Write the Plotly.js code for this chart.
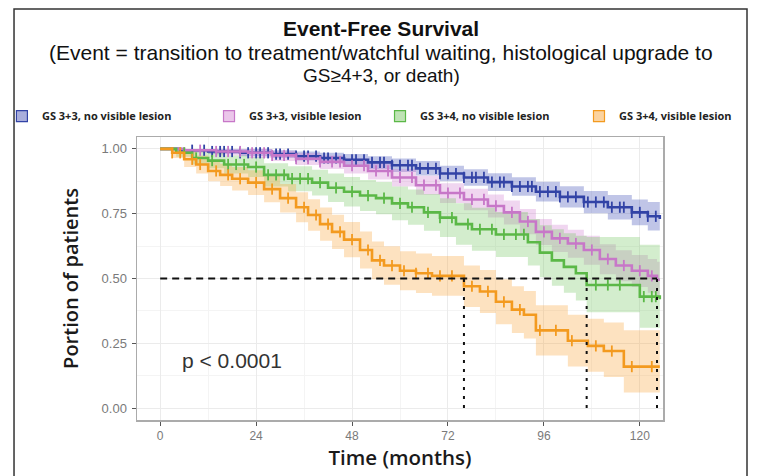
<!DOCTYPE html>
<html>
<head>
<meta charset="utf-8">
<script src="https://cdn.plot.ly/plotly-3.0.1.min.js"></script>
<style>
html,body{margin:0;padding:0;background:#fff;}
#chart{width:763px;height:476px;}
</style>
</head>
<body>
<div id="chart"></div>
<script>
// ---------------- data ----------------
const groupNames = ["GS 3+3, no visible lesion", "GS 3+3, visible lesion", "GS 3+4, no visible lesion", "GS 3+4, visible lesion"];

// GS 3+3, no visible lesion
const blueT = [0, 5, 12, 20, 28, 34, 40, 46, 52, 58, 64, 70, 76, 82, 88, 94, 100, 106, 112, 118, 122, 125];
const blueS = [1.0, 0.995, 0.99, 0.985, 0.98, 0.972, 0.965, 0.958, 0.948, 0.937, 0.925, 0.905, 0.89, 0.872, 0.855, 0.835, 0.815, 0.795, 0.775, 0.755, 0.74, 0.73];
const blueUp = [1, 1, 1, 1, 0.995, 0.99, 0.985, 0.98, 0.972, 0.963, 0.953, 0.935, 0.922, 0.906, 0.891, 0.873, 0.856, 0.838, 0.822, 0.805, 0.795, 0.79];
const blueLo = [1, 0.99, 0.98, 0.972, 0.965, 0.955, 0.945, 0.935, 0.923, 0.911, 0.897, 0.875, 0.858, 0.838, 0.819, 0.797, 0.774, 0.752, 0.728, 0.705, 0.685, 0.67];
const blueCens = [8, 11, 13, 15, 16, 18, 20, 22, 24, 25, 27, 29, 30, 32, 34, 36, 37, 39, 41, 42, 44, 46, 48, 49, 51, 53, 55, 56, 58, 60, 62, 63, 65, 67, 69, 70, 72, 74, 76, 78, 79, 81, 83, 85, 86, 88, 90, 92, 93, 95, 97, 99, 100, 102, 104, 106, 107, 109, 111, 113, 115, 116, 118, 120, 122, 124];

// GS 3+3, visible lesion
const pinkT = [0, 6, 14, 22, 28, 34, 40, 46, 52, 58, 64, 70, 76, 82, 86, 90, 94, 98, 102, 106, 110, 114, 118, 122, 124.3, 125];
const pinkS = [1.0, 0.995, 0.99, 0.985, 0.975, 0.962, 0.95, 0.935, 0.915, 0.89, 0.86, 0.83, 0.805, 0.78, 0.755, 0.72, 0.68, 0.655, 0.635, 0.61, 0.575, 0.55, 0.53, 0.51, 0.495, 0.495];
const pinkUp = [1, 1, 1, 1, 0.993, 0.984, 0.975, 0.963, 0.946, 0.923, 0.896, 0.868, 0.846, 0.824, 0.801, 0.768, 0.73, 0.707, 0.688, 0.665, 0.632, 0.609, 0.591, 0.575, 0.565, 0.565];
const pinkLo = [1, 0.985, 0.975, 0.965, 0.953, 0.938, 0.923, 0.905, 0.882, 0.855, 0.823, 0.791, 0.763, 0.735, 0.708, 0.671, 0.629, 0.602, 0.58, 0.553, 0.516, 0.489, 0.467, 0.445, 0.43, 0.43];
const pinkCens = [10, 14, 17, 20, 23, 26, 28, 31, 34, 37, 40, 43, 45, 48, 51, 54, 57, 60, 63, 66, 69, 72, 75, 78, 81, 84, 88, 92, 96, 100, 104, 108, 112, 116, 120, 123];

// GS 3+4, no visible lesion
const greenT = [0, 4, 8, 12, 16, 22, 26, 32, 38, 42, 46, 50, 54, 58, 62, 66, 70, 74, 78, 84, 92, 95, 98, 101, 104, 106.7, 120, 125];
const greenS = [1.0, 0.985, 0.965, 0.955, 0.94, 0.93, 0.9, 0.885, 0.87, 0.85, 0.835, 0.82, 0.81, 0.79, 0.775, 0.755, 0.735, 0.71, 0.69, 0.67, 0.64, 0.6, 0.57, 0.545, 0.52, 0.475, 0.43, 0.42];
const greenUp = [1, 1, 0.99, 0.985, 0.975, 0.968, 0.945, 0.933, 0.92, 0.905, 0.892, 0.88, 0.872, 0.855, 0.843, 0.826, 0.81, 0.79, 0.773, 0.757, 0.73, 0.705, 0.69, 0.675, 0.665, 0.66, 0.63, 0.63];
const greenLo = [1, 0.97, 0.94, 0.925, 0.905, 0.892, 0.855, 0.837, 0.82, 0.795, 0.778, 0.76, 0.748, 0.725, 0.707, 0.684, 0.66, 0.63, 0.607, 0.583, 0.55, 0.505, 0.472, 0.445, 0.415, 0.37, 0.31, 0.3];
const greenCens = [6, 9, 13, 17, 19, 21, 24, 27, 29, 31, 33, 35, 37, 40, 44, 48, 52, 56, 60, 63, 67, 70, 73, 77, 80, 83, 86, 89, 91, 109, 112, 115, 121, 123, 124];

// GS 3+4, visible lesion
const orangeT = [0, 3, 6, 9, 12, 15, 18, 22, 26, 30, 34, 37, 40, 43, 46, 50, 53, 56, 60, 64, 68, 76, 80, 84, 88, 91, 94, 102, 107, 111, 116, 125];
const orangeS = [1.0, 0.985, 0.96, 0.94, 0.915, 0.9, 0.885, 0.87, 0.845, 0.81, 0.775, 0.745, 0.71, 0.68, 0.65, 0.61, 0.57, 0.55, 0.53, 0.52, 0.51, 0.47, 0.45, 0.41, 0.38, 0.36, 0.30, 0.26, 0.24, 0.22, 0.16, 0.16];
const orangeUp = [1, 1, 0.99, 0.975, 0.955, 0.943, 0.93, 0.918, 0.896, 0.865, 0.833, 0.806, 0.774, 0.746, 0.718, 0.681, 0.643, 0.624, 0.605, 0.596, 0.587, 0.55, 0.533, 0.497, 0.47, 0.452, 0.397, 0.36, 0.345, 0.33, 0.3, 0.3];
const orangeLo = [1, 0.965, 0.93, 0.905, 0.875, 0.857, 0.84, 0.822, 0.794, 0.755, 0.717, 0.684, 0.646, 0.614, 0.582, 0.539, 0.497, 0.476, 0.455, 0.444, 0.433, 0.39, 0.367, 0.323, 0.29, 0.268, 0.203, 0.16, 0.14, 0.12, 0.06, 0.06];
const orangeCens = [3, 5, 8, 10, 14, 17, 20, 24, 28, 32, 36, 39, 42, 45, 48, 52, 55, 58, 61, 64, 67, 70, 73, 78, 82, 86, 90, 95, 99, 103, 109, 113, 118, 123];

const medianTimes = [76, 106.7, 124.3];   // orange, green, pink
const medianLevel = 0.5;
const xTicks = [0, 24, 48, 72, 96, 120];
const yTicks = [0, 0.25, 0.5, 0.75, 1.0];
const yTickText = ["0.00", "0.25", "0.50", "0.75", "1.00"];
const pText = "p < 0.0001";

// ---------------- styles ----------------
const lineColors = ["#3243A6", "#C777C8", "#5BB847", "#F39A1F"];
const bandColors = ["rgba(60,75,180,0.32)", "rgba(205,120,205,0.30)", "rgba(110,195,90,0.30)", "rgba(250,165,60,0.32)"];
const keyColors = ["#A9AEDC", "#EBC6EA", "#BFE3B5", "#FBD3A0"];

const groups = [
  {t: blueT, s: blueS, up: blueUp, lo: blueLo, c: blueCens},
  {t: pinkT, s: pinkS, up: pinkUp, lo: pinkLo, c: pinkCens},
  {t: greenT, s: greenS, up: greenUp, lo: greenLo, c: greenCens},
  {t: orangeT, s: orangeS, up: orangeUp, lo: orangeLo, c: orangeCens}
];

function stepAt(t, s, x) {
  let v = s[0];
  for (let i = 0; i < t.length; i++) { if (t[i] <= x) v = s[i]; }
  return v;
}

const traces = [];
// bands
groups.forEach((g, i) => {
  traces.push({x: g.t, y: g.lo, mode: "lines", line: {width: 0, shape: "hv"}, showlegend: false, hoverinfo: "skip"});
  traces.push({x: g.t, y: g.up, mode: "lines", line: {width: 0, shape: "hv"}, fill: "tonexty", fillcolor: bandColors[i], showlegend: false, hoverinfo: "skip"});
});
// curves + censor marks
groups.forEach((g, i) => {
  traces.push({x: g.t, y: g.s, mode: "lines", line: {color: lineColors[i], width: 2.6, shape: "hv"}, showlegend: false});
  traces.push({x: g.c, y: g.c.map(c => stepAt(g.t, g.s, c)), mode: "markers",
    marker: {symbol: "line-ns", size: 8, line: {color: lineColors[i], width: 1.8}}, showlegend: false});
});
// median reference lines
traces.push({x: [0, Math.max(...medianTimes)], y: [medianLevel, medianLevel], mode: "lines",
  line: {color: "#111", width: 2, dash: "7px,5px"}, showlegend: false});
medianTimes.forEach(m => {
  traces.push({x: [m, m], y: [0, medianLevel], mode: "lines",
    line: {color: "#111", width: 2, dash: "3px,6px"}, showlegend: false});
});
// legend entries (legend-only keys)
const legendIds = ["legend", "legend2", "legend3", "legend4"];
groupNames.forEach((n, i) => {
  traces.push({x: [null], y: [null], mode: "markers", name: n, legend: legendIds[i],
    marker: {symbol: "square", size: 11, color: keyColors[i], line: {color: lineColors[i], width: 1.2}}, showlegend: true});
});

const legendX = [-0.2568, 0.1369, 0.4620, 0.8403];
const legFont = {family: "Open Sans, sans-serif", size: 11, color: "#222", weight: 700};
const titleFont = "Liberation Sans, Arial, sans-serif";
const layout = {
  width: 763, height: 476,
  margin: {l: 137, r: 100, t: 137, b: 56, autoexpand: false},
  paper_bgcolor: "#fff", plot_bgcolor: "#fff",
  xaxis: {
    automargin: false,
    range: [-5.8, 125.8], tickvals: xTicks, ticks: "outside", ticklen: 4, tickcolor: "#555",
    tickfont: {family: "Liberation Sans, Arial, sans-serif", size: 12, color: "#7a7a7a"},
    showline: true, mirror: true, linecolor: "#ABABAB", linewidth: 1.5,
    showgrid: true, gridcolor: "#EBEBEB", gridwidth: 1,
    minor: {tickvals: [12, 36, 60, 84, 108], showgrid: true, gridcolor: "#F4F4F4", ticks: ""},
    zeroline: false,
    title: {text: "Time (months)", font: {family: "Open Sans, sans-serif", size: 20.5, color: "#1a1a1a", weight: 600}, standoff: 6}
  },
  yaxis: {
    automargin: false,
    range: [-0.046, 1.046], tickvals: yTicks, ticktext: yTickText, ticks: "outside", ticklen: 4, tickcolor: "#555",
    tickfont: {family: "Liberation Sans, Arial, sans-serif", size: 13, color: "#7a7a7a"},
    ticklabelstandoff: 2,
    showline: true, mirror: true, linecolor: "#ABABAB", linewidth: 1.5,
    showgrid: true, gridcolor: "#EBEBEB", gridwidth: 1,
    minor: {tickvals: [0.125, 0.375, 0.625, 0.875], showgrid: true, gridcolor: "#F4F4F4", ticks: ""},
    zeroline: false,
    title: {text: "Portion of patients", font: {family: "Open Sans, sans-serif", size: 20, color: "#1a1a1a", weight: 600}, standoff: 17}
  },
  annotations: [
    {xref: "paper", yref: "paper", x: 0.4639, y: 1.385, text: "<b>Event-Free Survival</b>", showarrow: false,
      xanchor: "center", yanchor: "middle", font: {family: titleFont, size: 21, color: "#111"}},
    {xref: "paper", yref: "paper", x: 0.4639, y: 1.300, text: "(Event = transition to treatment/watchful waiting, histological upgrade to", showarrow: false,
      xanchor: "center", yanchor: "middle", font: {family: titleFont, size: 21, color: "#111"}},
    {xref: "paper", yref: "paper", x: 0.4639, y: 1.219, text: "GS≥4+3, or death)", showarrow: false,
      xanchor: "center", yanchor: "middle", font: {family: titleFont, size: 19, color: "#111"}},
    {xref: "x", yref: "y", x: 5, y: 0.185, text: pText, showarrow: false, xanchor: "left", yanchor: "middle",
      font: {family: "Liberation Sans, Arial, sans-serif", size: 21, color: "#333"}}
  ],
  shapes: [
    {type: "rect", xref: "paper", yref: "paper", x0: -0.2338, x1: 1.1597, y0: -0.25, y1: 1.452,
      line: {color: "#333", width: 1.5}, fillcolor: "rgba(0,0,0,0)", layer: "below"}
  ]
};
legendIds.forEach((id, i) => {
  layout[id] = {x: legendX[i], xanchor: "left", y: 1.074, yanchor: "middle", orientation: "h",
    bgcolor: "rgba(0,0,0,0)", font: legFont, itemwidth: 30};
});

Plotly.newPlot("chart", traces, layout, {displayModeBar: false, staticPlot: true});
</script>
</body>
</html>
